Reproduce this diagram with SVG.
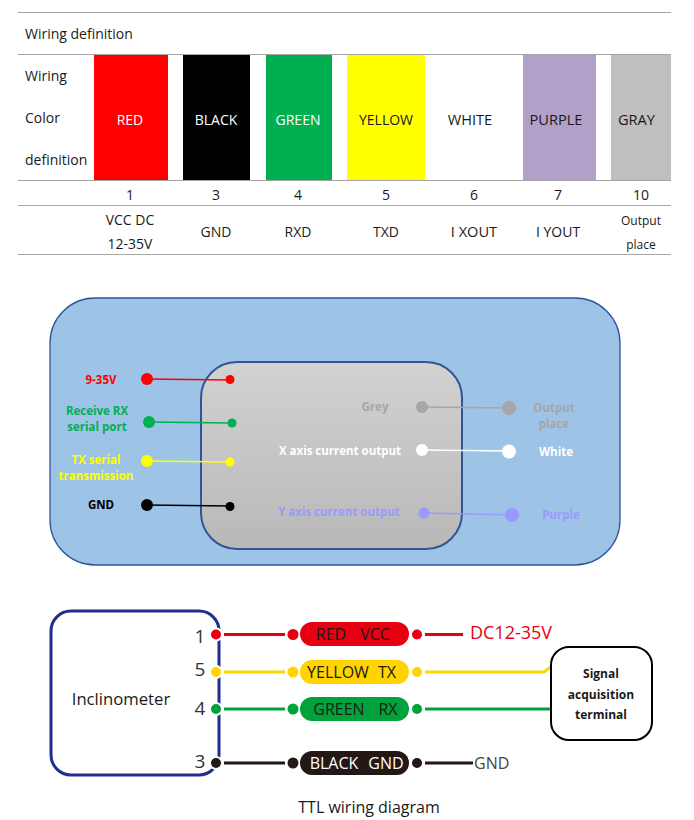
<svg xmlns="http://www.w3.org/2000/svg" width="694" height="820" viewBox="0 0 694 820">
<style>
text{font-family:"Open Sans","Noto Sans","Liberation Sans",sans-serif;font-size:14px;fill:#1a1a1a;text-anchor:middle}
.l{text-anchor:start}
.rule{stroke:#a6a6a6;stroke-width:1;fill:none}
.b{font-weight:700;font-size:11.500px}
.n{font-size:19px;fill:#333}
.p{font-size:16px;fill:#231815}
.c{font-size:14.600px}
.w{stroke-width:3;fill:none}
.t{stroke-width:1.300;fill:none}
.h{stroke:#fff;stroke-width:2}
</style>
<defs>
<linearGradient id="g" x1="0" y1="0" x2="0" y2="1"><stop offset="0" stop-color="#d2d2d2"/><stop offset="1" stop-color="#b8b8b8"/></linearGradient>
</defs>
<rect width="694" height="820" fill="#fff"/>
<g id="table">
<rect x="94" y="55" width="74" height="125" fill="#ff0000"/>
<rect x="183" y="55" width="67" height="125" fill="#000"/>
<rect x="266" y="55" width="66" height="125" fill="#00b050"/>
<rect x="347" y="55" width="78" height="125" fill="#ffff00"/>
<rect x="523" y="55" width="73" height="125" fill="#b1a0c7"/>
<rect x="611" y="55" width="60" height="125" fill="#bfbfbf"/>
<path class="rule" d="M18 12.500H671M18 54.500H671M18 180.500H671M18 205.500H671M18 254.500H671"/>
<text class="l" x="25" y="39">Wiring definition</text>
<text class="l" x="25" y="81">Wiring</text>
<text class="l" x="25" y="123">Color</text>
<text class="l" x="25" y="165">definition</text>
<text x="130" y="125" style="fill:#fff">RED</text>
<text x="216" y="125" style="fill:#fff">BLACK</text>
<text x="298" y="125" style="fill:#fff">GREEN</text>
<text x="386" y="125">YELLOW</text>
<text class="c" x="470" y="125">WHITE</text>
<text class="c" x="556" y="125">PURPLE</text>
<text class="c" x="636.500" y="125">GRAY</text>
<text x="130" y="200">1</text><text x="216" y="200">3</text><text x="298" y="200">4</text><text x="386" y="200">5</text><text x="474" y="200">6</text><text x="558" y="200">7</text><text x="641" y="200">10</text>
<text x="130" y="225">VCC DC</text><text x="130" y="249">12-35V</text>
<text x="216" y="237">GND</text><text x="298" y="237">RXD</text><text x="386" y="237">TXD</text><text class="c" x="474" y="237">I XOUT</text><text x="558" y="237">I YOUT</text>
<text x="641" y="225" style="font-size:12px">Output</text><text x="641" y="249" style="font-size:12px">place</text>
</g>
<g id="outer-board"><rect x="50" y="298" width="570" height="267" rx="45" fill="#9dc3e6" stroke="#2f5597" stroke-width="1.300"/></g>
<g id="inner-module"><rect x="201" y="362" width="261" height="187" rx="36" fill="url(#g)" stroke="#2f5597" stroke-width="2"/></g>
<g id="connectors-top">
<path class="t" stroke="#ff0000" d="M147 379L230 380"/>
<path class="t" stroke="#00b050" d="M149 422L232 423"/>
<path class="t" stroke="#ffff00" d="M147 461L230 462"/>
<path class="t" stroke="#000" d="M147 505L230 506"/>
<path class="t" stroke="#a6a6a6" d="M422 407L509 408"/>
<path class="t" stroke="#fff" d="M422 450L509 451"/>
<path class="t" stroke="#9999ff" d="M424 513L512 515"/>
</g>
<g id="pin-red"><circle cx="147" cy="379" r="6" fill="#ff0000"/><circle cx="230" cy="379.500" r="4.500" fill="#ff0000"/><text class="b" x="101" y="384" style="fill:#ff0000">9-35V</text></g>
<g id="pin-green"><circle cx="149" cy="422" r="6" fill="#00b050"/><circle cx="232" cy="423" r="4.500" fill="#00b050"/><text class="b" x="97" y="415" style="fill:#00b050">Receive RX</text><text class="b" x="97" y="431" style="fill:#00b050">serial port</text></g>
<g id="pin-yellow"><circle cx="147" cy="461" r="6" fill="#ffff00"/><circle cx="230" cy="462" r="4.500" fill="#ffff00"/><text class="b" x="96" y="464" style="fill:#ffff00">TX serial</text><text class="b" x="96" y="480" style="fill:#ffff00">transmission</text></g>
<g id="pin-black"><circle cx="147" cy="505" r="6" fill="#000"/><circle cx="230" cy="506.500" r="4.500" fill="#000"/><text class="b" x="101" y="509" style="fill:#000">GND</text></g>
<g id="pin-grey"><circle cx="422" cy="407" r="6" fill="#a6a6a6"/><circle cx="509" cy="408" r="7" fill="#a6a6a6"/><text class="b" x="375" y="411" style="fill:#a6a6a6">Grey</text><text class="b" x="554" y="412" style="fill:#a6a6a6">Output</text><text class="b" x="554" y="428" style="fill:#a6a6a6">place</text></g>
<g id="pin-white"><circle cx="422" cy="450" r="6" fill="#fff"/><circle cx="509" cy="451.500" r="7" fill="#fff"/><text class="b" x="340" y="455" style="fill:#fff">X axis current output</text><text class="b" x="556" y="456" style="fill:#fff">White</text></g>
<g id="pin-purple"><circle cx="424" cy="513" r="5.500" fill="#9999ff"/><circle cx="512" cy="515" r="7" fill="#9999ff"/><text class="b" x="339" y="516" style="fill:#9999ff">Y axis current output</text><text class="b" x="561" y="519" style="fill:#9999ff">Purple</text></g>
<g id="inclinometer"><rect x="51" y="611" width="168" height="164" rx="20" fill="#fff" stroke="#1d2f8f" stroke-width="3"/><text x="121" y="705" style="font-size:16.700px">Inclinometer</text>
<text class="n" x="200" y="643">1</text><text class="n" x="200" y="676">5</text><text class="n" x="200" y="715">4</text><text class="n" x="200" y="768">3</text></g>
<g id="connectors-bottom">
<path class="w" stroke="#e60012" d="M224 634.500H285M425 634.500H463"/>
<path class="w" stroke="#ffd400" d="M224 672H285M425 672H544L552 666"/>
<path class="w" stroke="#00a23c" d="M224 709H285M425 709H552"/>
<path class="w" stroke="#231815" d="M224 763H285M425 763H473"/>
</g>
<g id="wire-red"><circle class="h" cx="216" cy="634.500" r="6" fill="#e60012"/><circle cx="293" cy="634.500" r="5.500" fill="#e60012"/><rect x="300" y="622" width="109" height="24" rx="12" fill="#e60012"/><circle cx="417" cy="634.500" r="5" fill="#e60012"/><text class="p" x="331" y="640">RED</text><text class="p" x="375" y="640">VCC</text></g>
<g id="wire-yellow"><circle class="h" cx="216" cy="672" r="6" fill="#ffd400"/><circle cx="293" cy="672" r="5.500" fill="#ffd400"/><rect x="300" y="660" width="109" height="24" rx="12" fill="#ffd400"/><circle cx="417" cy="672" r="5" fill="#ffd400"/><text class="p" x="338" y="678">YELLOW</text><text class="p" x="387" y="678">TX</text></g>
<g id="wire-green"><circle class="h" cx="216" cy="709" r="6" fill="#00a23c"/><circle cx="293" cy="709" r="5.500" fill="#00a23c"/><rect x="300" y="697" width="109" height="24" rx="12" fill="#00a23c"/><circle cx="417" cy="709" r="5" fill="#00a23c"/><text class="p" x="339" y="715">GREEN</text><text class="p" x="388" y="715">RX</text></g>
<g id="wire-black"><circle class="h" cx="216" cy="763" r="6" fill="#231815"/><circle cx="293" cy="763" r="5.500" fill="#231815"/><rect x="300" y="751" width="109" height="24" rx="12" fill="#231815"/><circle cx="417" cy="763" r="5" fill="#231815"/><text class="p" x="334" y="769" style="fill:#fff">BLACK</text><text class="p" x="386" y="769" style="fill:#fff">GND</text></g>
<g id="dc-label"><text class="l" x="470" y="639" style="font-size:18px;fill:#e60012">DC12-35V</text></g>
<g id="gnd-label"><text class="l" x="474" y="769" style="font-size:16px;fill:#444">GND</text></g>
<g id="signal-terminal"><rect x="551" y="647" width="101" height="93" rx="18" fill="#fff" stroke="#000" stroke-width="2"/><text x="601" y="678" style="font-size:12px;font-weight:700">Signal</text><text x="601" y="699" style="font-size:12px;font-weight:700">acquisition</text><text x="601" y="719" style="font-size:12px;font-weight:700">terminal</text></g>
<text x="369" y="813" style="font-size:16px">TTL wiring diagram</text>
</svg>
